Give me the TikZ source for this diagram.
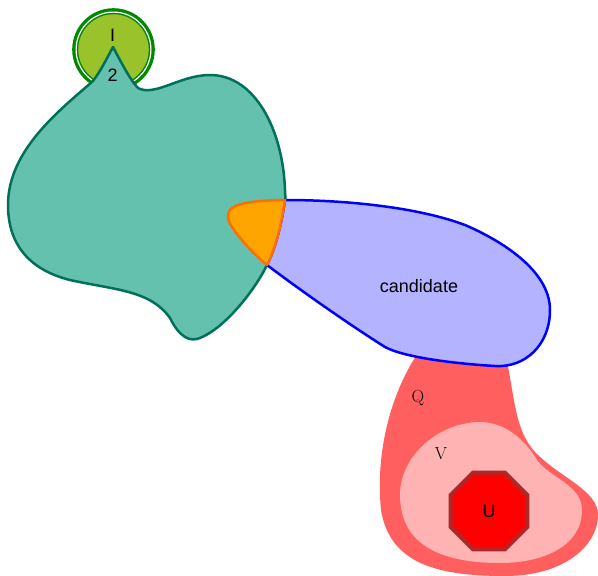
\documentclass[tikz,border=0pt]{standalone}
\usepackage{fontspec}
\setsansfont{Liberation Sans}
\usetikzlibrary{shapes.geometric}
\definecolor{ygfill}{HTML}{9AC32B}
\definecolor{gstroke}{HTML}{008800}
\definecolor{tealfill}{HTML}{63C1AD}
\definecolor{tealstroke}{HTML}{00705A}
\definecolor{bluefill}{HTML}{B3B3FF}
\definecolor{orangefill}{HTML}{FFA500}
\definecolor{orangestroke}{HTML}{FF6F00}
\definecolor{qfill}{HTML}{FF5F5F}
\definecolor{vfill}{HTML}{FFB3B3}
\definecolor{ustroke}{HTML}{AE2828}
\tikzset{
  sanslabel/.style={font=\sffamily\fontsize{18}{21}\selectfont, inner sep=0pt},
  seriflabel/.style={font=\fontsize{17.5}{20}\selectfont, inner sep=0pt},
}
\begin{document}
\begin{tikzpicture}[x=1pt,y=-1pt]
\useasboundingbox (0,0) rectangle (598,576);
% green double circle
\fill[ygfill] (113.5,49.5) circle (40);
\draw[gstroke, line width=6pt] (113.5,49.5) circle (38.3);
\draw[white, line width=1.2pt] (113.5,49.5) circle (37.4);
% teal blob
\draw[fill=tealfill, draw=tealstroke, line width=2.5pt, line join=round]
  (113,47) .. controls (106,60) and (100,72) .. (93,81)
  .. controls (60,110) and (8,150) .. (8,205)
  .. controls (8,245) and (30,270) .. (70,280)
  .. controls (115,290) and (150,290) .. (170,318)
  .. controls (180,338) and (190,342) .. (200,338)
  .. controls (225,328) and (255,290) .. (267,265)
  .. controls (280,240) and (287,220) .. (285,190)
  .. controls (283,130) and (255,75) .. (210,75)
  .. controls (180,75) and (155,97) .. (138,88)
  .. controls (130,80) and (120,60) .. (113,47) -- cycle;
\node[sanslabel] (lI) at (112.7,35) {I};
\node[sanslabel] (l2) at (112.7,75) {2};
% red Q blob
\fill[qfill]
  (420,350) -- (506,356)
  .. controls (515,400) and (515,430) .. (535,452)
  .. controls (560,478) and (598,490) .. (598,515)
  .. controls (598,545) and (565,576) .. (505,576)
  .. controls (440,576) and (390,565) .. (381,510)
  .. controls (375,450) and (392,390) .. (420,350) -- cycle;
\node[seriflabel] (lQ) at (418,398) {Q};
% pink V blob
\fill[vfill]
  (480,422) .. controls (505,422) and (525,440) .. (537,460)
  .. controls (550,478) and (582,485) .. (582,510)
  .. controls (582,545) and (545,563) .. (500,563)
  .. controls (450,563) and (400,550) .. (400,495)
  .. controls (400,455) and (440,422) .. (480,422) -- cycle;
\node[seriflabel] (lV) at (441,454) {V};
% octagon U
\node[regular polygon, regular polygon sides=8, minimum size=83pt, inner sep=0pt,
      fill=red, draw=ustroke, line width=4pt, sanslabel] (U) at (489,511) {U};
% blue blob
\draw[fill=bluefill, draw=blue, line width=2.5pt]
  (285,200) .. controls (350,200) and (420,208) .. (465,225)
  .. controls (500,240) and (550,270) .. (550,310)
  .. controls (550,345) and (525,368) .. (495,366)
  .. controls (460,364) and (405,358) .. (385,347)
  .. controls (350,325) and (300,290) .. (267,265)
  .. controls (277,245) and (282,220) .. (285,200) -- cycle;
\node[sanslabel] (lc) at (419,286) {candidate};
% orange shape
\draw[fill=orangefill, draw=orangestroke, line width=2.5pt, line join=round]
  (285,200) .. controls (265,200) and (240,202) .. (232,208)
  .. controls (226,212) and (227,220) .. (232,227)
  .. controls (242,242) and (255,255) .. (267,265)
  .. controls (277,245) and (282,220) .. (285,200) -- cycle;
\end{tikzpicture}
\end{document}
